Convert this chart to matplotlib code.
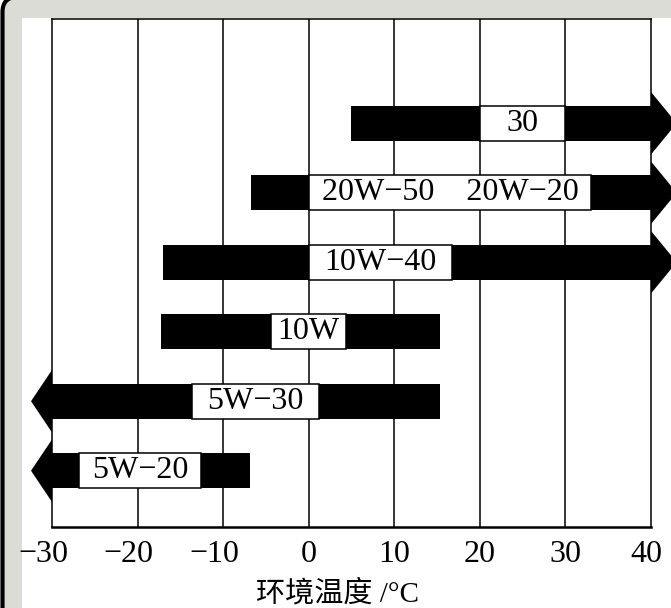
import matplotlib.pyplot as plt
from matplotlib.patches import Rectangle, Polygon, FancyBboxPatch
from matplotlib.transforms import ScaledTranslation

plt.rcParams['font.family'] = ['Liberation Serif', 'Noto Sans CJK SC']

# oil grades, bottom row first
grades = ['5W−20', '5W−30', '10W', '10W−40', '20W−50    20W−20', '30']
temp_low = [-30, -30, -17.3, -17, -6.7, 5]
temp_high = [-6.9, 15.4, 15.4, 40, 40, 40]
open_left = [True, True, False, False, False, False]
open_right = [False, False, False, True, True, True]
box_low = [-26.8, -13.6, -4.4, 0, 0, 20]
box_high = [-12.6, 1.2, 4.3, 16.7, 33, 30]
xticks = [-30, -20, -10, 0, 10, 20, 30, 40]
xlabel = '环境温度 /°C'

W, H = 671, 608
fig = plt.figure(figsize=(W / 100, H / 100), dpi=100)

# grey frame with rounded black edge, white page inside
frame = FancyBboxPatch((0.025, -1), 10, 6.11 + 1,
                       boxstyle='round,pad=0,rounding_size=0.15',
                       transform=fig.dpi_scale_trans, fc='#dcdcd7',
                       ec='black', lw=3, zorder=-5)
page = Rectangle((0.22, -1), 10, 5.90 + 1, transform=fig.dpi_scale_trans,
                 fc='white', ec='none', zorder=-4)
fig.patches.extend([frame, page])

ax = fig.add_axes([52 / W, 81 / H, 599 / W, 508 / H])
ax.set_facecolor('none')
ax.set_xlim(-30, 40)
ax.set_ylim(0.19, 7.5)

for v in xticks[1:-1]:
    ax.axvline(v, color='black', lw=1.1, zorder=1)
for side in ['left', 'right', 'top']:
    ax.spines[side].set_linewidth(1.1)
ax.spines['bottom'].set_linewidth(1.8)

half = 0.25
head = 0.45
for i, name in enumerate(grades):
    y = i + 1
    lo, hi = temp_low[i], temp_high[i]
    ax.add_patch(Rectangle((lo, y - half), hi - lo, 2 * half, fc='black',
                           ec='none', zorder=3, clip_on=False))
    if open_left[i]:
        ax.add_patch(Polygon([(lo, y - head), (lo - 2.45, y), (lo, y + head)],
                             fc='black', ec='none', zorder=3, clip_on=False))
    if open_right[i]:
        ax.add_patch(Polygon([(hi, y - head), (hi + 3.0, y), (hi, y + head)],
                             fc='black', ec='none', zorder=3, clip_on=False))
    ax.add_patch(Rectangle((box_low[i], y - half), box_high[i] - box_low[i],
                           2 * half, fc='white', ec='black', lw=1.1, zorder=4))
    ax.text((box_low[i] + box_high[i]) / 2, y, name, ha='center', va='center',
            fontsize=23, zorder=5)

ax.set_xticks([])
ax.set_yticks([])
for v in xticks:
    lab = str(v).replace('-', '−')
    dx = -9 if v < 0 else (-5 if v == 40 else 0)
    tr = ax.get_xaxis_transform() + ScaledTranslation(dx / 100, -0.125,
                                                      fig.dpi_scale_trans)
    ax.text(v, 0, lab, transform=tr, ha='center', va='top', fontsize=23)

fig.text(337.5 / W, (H - 594) / H, xlabel, ha='center', va='center',
         fontsize=21)

fig.savefig('out.png', dpi=100)
